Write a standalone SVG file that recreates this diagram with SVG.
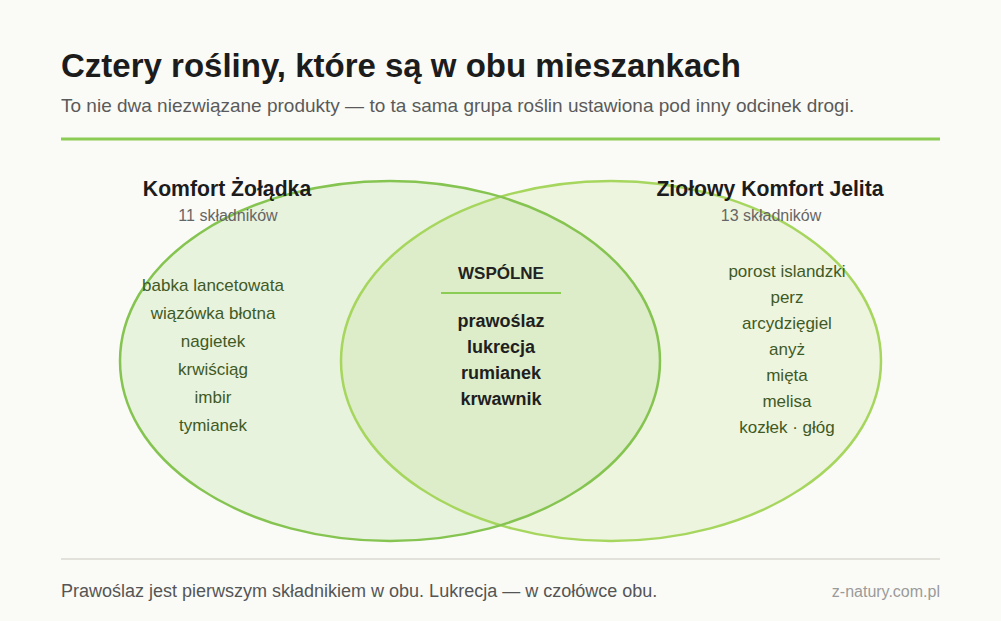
<svg xmlns="http://www.w3.org/2000/svg" width="1001" height="621" viewBox="0 0 1001 621">
<style>
.title{font-family:"Liberation Sans",Arial,sans-serif;font-weight:bold;font-size:33px;fill:#1c1c1c}
.sub{font-family:"Liberation Sans",Arial,sans-serif;font-size:19px;fill:#5a5a5a}
.h{font-family:"Liberation Sans",Arial,sans-serif;font-weight:bold;font-size:21.2px;fill:#1c1c1c;text-anchor:middle}
.cnt{font-family:"Liberation Sans",Arial,sans-serif;font-size:16px;fill:#666;text-anchor:middle}
.item{font-family:"Liberation Sans",Arial,sans-serif;font-size:17px;fill:#3f5a26;text-anchor:middle}
.common{font-family:"Liberation Sans",Arial,sans-serif;font-weight:bold;font-size:18px;fill:#1f1f1f;text-anchor:middle}
.ch{font-family:"Liberation Sans",Arial,sans-serif;font-weight:bold;font-size:17px;fill:#222;text-anchor:middle}
.foot{font-family:"Liberation Sans",Arial,sans-serif;font-size:18px;fill:#555}
.brand{font-family:"Liberation Sans",Arial,sans-serif;font-size:16px;fill:#9a9a9a;text-anchor:end}
</style>
<defs>
<clipPath id="clipL"><ellipse cx="390" cy="361" rx="270" ry="180"/></clipPath>
</defs>
<rect width="1001" height="621" fill="#fafbf7"/>
<g id="header">
<text class="title" x="61" y="77">Cztery rośliny, które są w obu mieszankach</text>
<text class="sub" x="61" y="112">To nie dwa niezwiązane produkty — to ta sama grupa roślin ustawiona pod inny odcinek drogi.</text>
<line x1="61" y1="139" x2="940" y2="139" stroke="#8bcc55" stroke-width="3"/>
</g>
<g id="setA">
<ellipse cx="390" cy="361" rx="270" ry="180" fill="#e8f3dd"/>
</g>
<g id="setB">
<ellipse cx="611" cy="361" rx="270" ry="180" fill="#eef5df"/>
</g>
<g id="overlap">
<ellipse cx="611" cy="361" rx="270" ry="180" fill="#ddedc9" clip-path="url(#clipL)"/>
</g>
<g id="outlines" fill="none" stroke-width="2.5">
<ellipse cx="611" cy="361" rx="270" ry="180" stroke="#a6d65e"/>
<ellipse cx="390" cy="361" rx="270" ry="180" stroke="#86c451"/>
</g>
<g id="labelA">
<text class="h" x="227" y="196">Komfort Żołądka</text>
<text class="cnt" x="228" y="221">11 składników</text>
<text class="item" x="213" y="291">babka lancetowata</text>
<text class="item" x="213" y="319">wiązówka błotna</text>
<text class="item" x="213" y="347">nagietek</text>
<text class="item" x="213" y="375">krwiściąg</text>
<text class="item" x="213" y="403">imbir</text>
<text class="item" x="213" y="431">tymianek</text>
</g>
<g id="labelB">
<text class="h" x="770" y="196">Ziołowy Komfort Jelita</text>
<text class="cnt" x="771" y="221">13 składników</text>
<text class="item" x="787" y="277">porost islandzki</text>
<text class="item" x="787" y="303">perz</text>
<text class="item" x="787" y="329">arcydzięgiel</text>
<text class="item" x="787" y="355">anyż</text>
<text class="item" x="787" y="381">mięta</text>
<text class="item" x="787" y="407">melisa</text>
<text class="item" x="787" y="433">kozłek · głóg</text>
</g>
<g id="labelCommon">
<text class="ch" x="501" y="279">WSPÓLNE</text>
<line x1="441" y1="293" x2="561" y2="293" stroke="#8bcc55" stroke-width="2"/>
<text class="common" x="501" y="327">prawoślaz</text>
<text class="common" x="501" y="353">lukrecja</text>
<text class="common" x="501" y="379">rumianek</text>
<text class="common" x="501" y="405">krwawnik</text>
</g>
<g id="footer">
<line x1="61" y1="559" x2="940" y2="559" stroke="#e2e2da" stroke-width="2"/>
<text class="foot" x="61" y="597">Prawoślaz jest pierwszym składnikiem w obu. Lukrecja — w czołówce obu.</text>
<text class="brand" x="940" y="597">z-natury.com.pl</text>
</g>
</svg>
